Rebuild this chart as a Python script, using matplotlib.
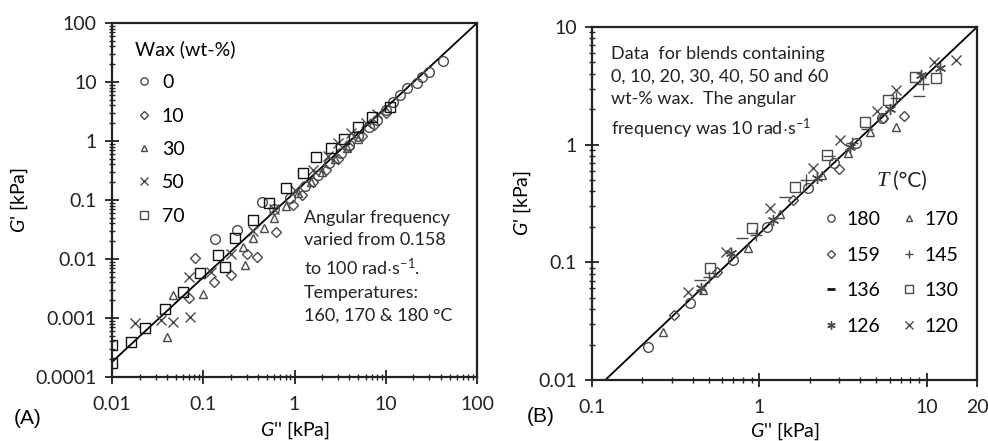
import matplotlib
matplotlib.use("Agg")
import matplotlib.pyplot as plt
from matplotlib.ticker import LogLocator, NullFormatter, FixedLocator, FixedFormatter
from matplotlib.lines import Line2D

plt.rcParams['font.family'] = ['Lato', 'DejaVu Sans']
plt.rcParams['mathtext.fontset'] = 'custom'
plt.rcParams['mathtext.rm'] = 'Lato'
plt.rcParams['mathtext.it'] = 'Lato:italic'
plt.rcParams['mathtext.bf'] = 'Lato:bold'

# ---------------- Panel A data (G'' vs G', kPa) ----------------
wax_labels = ["0", "10", "30", "50", "70"]
a0_x = [0.135, 0.235, 0.44, 0.6, 0.9, 1.3, 1.8, 2.4, 3.2, 4.0, 5.0, 6.5, 8.0, 10, 12, 14.5, 17, 22, 25, 30, 42]
a0_y = [0.022, 0.031, 0.093, 0.07, 0.11, 0.17, 0.27, 0.42, 0.62, 0.85, 1.2, 1.7, 2.3, 3.4, 4.6, 6.0, 8.0, 9.6, 12, 15, 23]
a10_x = [0.069, 0.082, 0.2, 0.39, 0.62, 0.97, 0.3, 1.2, 1.6, 2.2, 3.0, 4.0, 5.5, 7.5, 10, 0.13]
a10_y = [0.0022, 0.0105, 0.0054, 0.0108, 0.029, 0.083, 0.012, 0.12, 0.2, 0.32, 0.5, 0.8, 1.2, 1.9, 3.0, 0.004]
a30_x = [0.04, 0.046, 0.1, 0.27, 0.29, 0.35, 0.46, 0.6, 0.8, 1.1, 1.5, 2.0, 2.8, 3.8, 5.0]
a30_y = [0.00048, 0.0025, 0.0026, 0.016, 0.0079, 0.023, 0.034, 0.05, 0.08, 0.13, 0.2, 0.3, 0.5, 0.75, 1.1]
a50_x = [0.018, 0.034, 0.047, 0.072, 0.069, 0.12, 0.2, 0.35, 0.6, 1.0, 1.6, 2.3, 3.0, 4.2, 6, 8]
a50_y = [0.00083, 0.00093, 0.00085, 0.00105, 0.0049, 0.006, 0.012, 0.03, 0.07, 0.15, 0.32, 0.55, 0.93, 1.37, 2.0, 2.9]
a70_x = [0.01, 0.01, 0.016, 0.023, 0.038, 0.06, 0.093, 0.145, 0.175, 0.225, 0.35, 0.52, 0.8, 1.23, 1.7, 2.5, 3.5, 5.0, 7.0, 11]
a70_y = [0.00017, 0.00035, 0.00039, 0.00068, 0.0014, 0.0028, 0.0058, 0.0117, 0.0073, 0.023, 0.046, 0.089, 0.16, 0.29, 0.53, 0.75, 1.1, 1.7, 2.6, 3.8]
a_line_x = [0.01, 100]
a_line_y = [0.00018, 100]
a_xticks = [0.01, 0.1, 1, 10, 100]
a_xticklabels = ["0.01", "0.1", "1", "10", "100"]
a_yticks = [0.0001, 0.001, 0.01, 0.1, 1, 10, 100]
a_yticklabels = ["0.0001", "0.001", "0.01", "0.1", "1", "10", "100"]

# ---------------- Panel B data ----------------
temp_labels = ["180", "159", "136", "126", "170", "145", "130", "120"]
b180_x = [0.215, 0.385, 0.7, 1.11, 1.95, 2.8, 3.8, 5.4]
b180_y = [0.019, 0.045, 0.105, 0.2, 0.43, 0.7, 1.03, 1.68]
b159_x = [0.31, 0.56, 1.6, 3.0, 5.5, 7.3]
b159_y = [0.036, 0.083, 0.34, 0.62, 1.7, 1.75]
b136_x = [0.44, 0.79, 1.42, 2.6, 4.4, 9.0]
b136_y = [0.071, 0.16, 0.36, 0.8, 1.35, 2.6]
b126_x = [0.45, 0.68, 1.2, 2.2, 3.5, 6.0, 9.2, 12]
b126_y = [0.06, 0.12, 0.23, 0.52, 0.95, 2.0, 3.9, 4.5]
b170_x = [0.266, 0.46, 0.85, 1.33, 2.36, 3.4, 4.6, 6.6]
b170_y = [0.0257, 0.058, 0.132, 0.26, 0.55, 0.85, 1.29, 1.4]
b145_x = [0.5, 0.95, 1.9, 3.6, 6.6, 9.5]
b145_y = [0.075, 0.17, 0.5, 1.03, 2.5, 3.3]
b130_x = [0.51, 0.9, 1.63, 2.54, 4.3, 5.9, 8.5, 11.3]
b130_y = [0.089, 0.195, 0.44, 0.82, 1.55, 2.4, 3.75, 3.7]
b120_x = [0.375, 0.63, 1.16, 2.1, 3.04, 5.05, 6.6, 11, 15]
b120_y = [0.056, 0.122, 0.29, 0.63, 1.1, 1.95, 2.9, 5.0, 5.2]
b_line_x = [0.12, 20]
b_line_y = [0.01, 10]
b_xticks = [0.1, 1, 10, 20]
b_xticklabels = ["0.1", "1", "10", "20"]
b_yticks = [0.01, 0.1, 1, 10]
b_yticklabels = ["0.01", "0.1", "1", "10"]

gray = '#4a4a4a'
FS = 14

fig = plt.figure(figsize=(9.88, 4.41), dpi=100)
axA = fig.add_axes([0.1134, 0.1451, 0.3694, 0.8027])
axB = fig.add_axes([0.5992, 0.1383, 0.3897, 0.8005])


def style_axis(ax, xt, xtl, yt, ytl, xlim, ylim):
    ax.set_xscale('log')
    ax.set_yscale('log')
    ax.set_xlim(*xlim)
    ax.set_ylim(*ylim)
    ax.xaxis.set_major_locator(FixedLocator(xt))
    ax.xaxis.set_major_formatter(FixedFormatter(xtl))
    ax.yaxis.set_major_locator(FixedLocator(yt))
    ax.yaxis.set_major_formatter(FixedFormatter(ytl))
    ax.xaxis.set_minor_locator(LogLocator(base=10, subs=range(2, 10), numticks=20))
    ax.yaxis.set_minor_locator(LogLocator(base=10, subs=range(2, 10), numticks=20))
    ax.xaxis.set_minor_formatter(NullFormatter())
    ax.yaxis.set_minor_formatter(NullFormatter())
    ax.tick_params(which='major', direction='inout', length=10, width=1.3,
                   labelsize=FS, colors='#222222', pad=6)
    ax.tick_params(axis='x', which='major', pad=9)
    ax.tick_params(which='minor', direction='inout', length=5, width=1.0, colors='#222222')
    for s in ax.spines.values():
        s.set_linewidth(1.6)
        s.set_color('#222222')


style_axis(axA, a_xticks, a_xticklabels, a_yticks, a_yticklabels, (0.01, 100), (0.0001, 100))
style_axis(axB, b_xticks, b_xticklabels, b_yticks, b_yticklabels, (0.1, 20), (0.01, 10))

# ---- Panel A ----
axA.plot(a_line_x, a_line_y, color='black', lw=1.3, zorder=1)
ms = 7
kw = dict(ls='none', mfc='none', mew=1.0)
seriesA = [
    (a0_x, a0_y, 'o', gray, ms),
    (a10_x, a10_y, 'D', gray, ms - 2),
    (a30_x, a30_y, '^', gray, ms - 1),
    (a50_x, a50_y, 'x', gray, ms),
    (a70_x, a70_y, 's', '#111111', ms),
]
handlesA = []
for (x, y, m, c, s), lab in zip(seriesA, wax_labels):
    axA.plot(x, y, marker=m, color=c, ms=s, zorder=2, **kw)
    handlesA.append(Line2D([], [], marker=m, color=gray, ms=s * 0.75, ls='none',
                           mfc='none', mew=1.0, label=lab))
legA = axA.legend(handles=handlesA, title="Wax (wt-%)", loc='upper left',
                  bbox_to_anchor=(0.03, 0.985), frameon=False, fontsize=FS,
                  title_fontsize=FS, handlelength=1.0, handletextpad=0.4,
                  labelspacing=0.84, borderaxespad=0.2)
legA._legend_box.align = "left"

axA.text(0.525, 0.473,
         "Angular frequency\nvaried from 0.158\nto 100 rad$\\cdot$s$^{-1}$.\nTemperatures:\n160, 170 & 180 \u00b0C",
         transform=axA.transAxes, fontsize=13, va='top', ha='left',
         linespacing=1.5, color='#222222')

axA.set_xlabel("$G$'' [kPa]", fontsize=FS, labelpad=4)
axA.set_ylabel("$G$' [kPa]", fontsize=FS, labelpad=4)

# ---- Panel B ----
axB.plot(b_line_x, b_line_y, color='black', lw=1.3, zorder=1)
seriesB = [
    (b180_x, b180_y, 'o', ms),
    (b159_x, b159_y, 'D', ms - 2),
    (b136_x, b136_y, '_', ms + 1),
    (b126_x, b126_y, (6, 2, 0), ms + 1),
    (b170_x, b170_y, '^', ms - 1),
    (b145_x, b145_y, '+', ms + 1),
    (b130_x, b130_y, 's', ms),
    (b120_x, b120_y, 'x', ms),
]
handlesB = []
for (x, y, m, s), lab in zip(seriesB, temp_labels):
    axB.plot(x, y, marker=m, color=gray, ms=s, zorder=2, **kw)
    handlesB.append(Line2D([], [], marker=m, color=gray if m != '_' else '#111111',
                           ms=s * 0.75, ls='none', mfc='none',
                           mew=1.0 if m != '_' else 2.0, label=lab))
legB = axB.legend(handles=handlesB, ncol=2, loc='upper left',
                  bbox_to_anchor=(0.574, 0.5), frameon=False, fontsize=FS,
                  handlelength=1.0, handletextpad=0.3, labelspacing=0.95,
                  columnspacing=1.0, borderaxespad=0.0)

axB.text(0.738, 0.535, "T", transform=axB.transAxes, fontsize=FS + 2,
         family='Liberation Serif', style='italic', va='bottom', ha='left', color='#222222')
axB.text(0.783, 0.535, "(\u00b0C)", transform=axB.transAxes, fontsize=FS + 1,
         va='bottom', ha='left', color='#222222')

axB.text(0.05, 0.945,
         "Data  for blends containing\n0, 10, 20, 30, 40, 50 and 60\nwt-% wax.  The angular\nfrequency was 10 rad$\\cdot$s$^{-1}$",
         transform=axB.transAxes, fontsize=13, va='top', ha='left',
         linespacing=1.5, color='#222222')

axB.set_xlabel("$G$'' [kPa]", fontsize=FS, labelpad=3)
axB.set_ylabel("$G$' [kPa]", fontsize=FS, labelpad=4)

fig.text(28 / 988, 1 - 418 / 441, "(A)", fontsize=FS + 1, ha='center', va='center',
         family=['Liberation Sans', 'DejaVu Sans'])
fig.text(541 / 988, 1 - 416 / 441, "(B)", fontsize=FS + 1, ha='center', va='center',
         family=['Liberation Sans', 'DejaVu Sans'])

fig.savefig("out.png", dpi=100)
